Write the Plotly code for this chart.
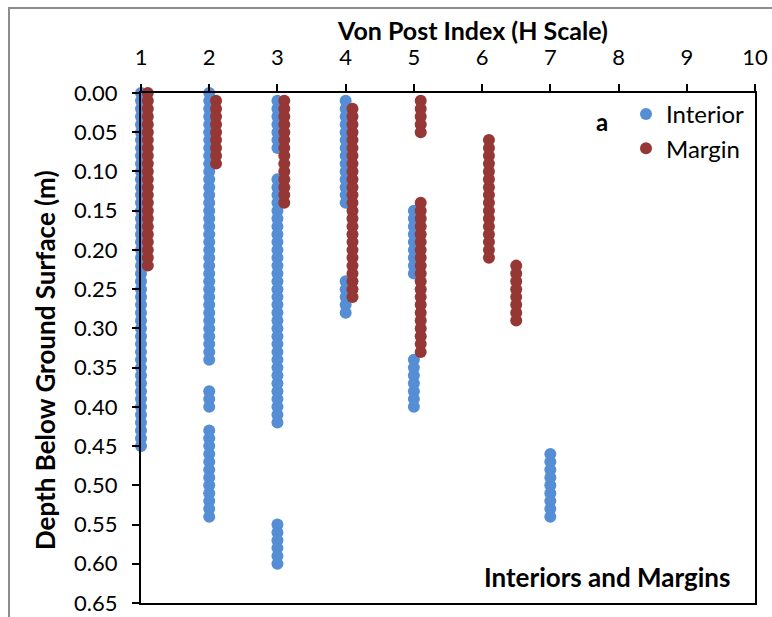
import plotly.graph_objects as go

# Von Post index (H scale) positions of each column of points
interior_x = [1, 2, 3, 4, 5, 7]
margin_x = [1.1, 2.1, 3.1, 4.1, 5.1, 6.1, 6.5]

# Depths below ground surface (m) read for each column (0.01 m sampling)
interior_depths = [
    [0.00, 0.01, 0.02, 0.03, 0.04, 0.05, 0.06, 0.07, 0.08, 0.09, 0.10, 0.11, 0.12, 0.13, 0.14, 0.15,
     0.16, 0.17, 0.18, 0.19, 0.20, 0.21, 0.22, 0.23, 0.24, 0.25, 0.26, 0.27, 0.28, 0.29, 0.30,
     0.31, 0.32, 0.33, 0.34, 0.35, 0.36, 0.37, 0.38, 0.39, 0.40, 0.41, 0.42, 0.43, 0.44, 0.45],
    [0.00, 0.01, 0.02, 0.03, 0.04, 0.05, 0.06, 0.07, 0.08, 0.09, 0.10, 0.11, 0.12, 0.13, 0.14, 0.15,
     0.16, 0.17, 0.18, 0.19, 0.20, 0.21, 0.22, 0.23, 0.24, 0.25, 0.26, 0.27, 0.28, 0.29, 0.30,
     0.31, 0.32, 0.33, 0.34, 0.38, 0.39, 0.40, 0.43, 0.44, 0.45, 0.46, 0.47, 0.48, 0.49, 0.50,
     0.51, 0.52, 0.53, 0.54],
    [0.01, 0.02, 0.03, 0.04, 0.05, 0.06, 0.07, 0.11, 0.12, 0.13, 0.14, 0.15, 0.16, 0.17, 0.18,
     0.19, 0.20, 0.21, 0.22, 0.23, 0.24, 0.25, 0.26, 0.27, 0.28, 0.29, 0.30, 0.31, 0.32, 0.33,
     0.34, 0.35, 0.36, 0.37, 0.38, 0.39, 0.40, 0.41, 0.42, 0.55, 0.56, 0.57, 0.58, 0.59, 0.60],
    [0.01, 0.02, 0.03, 0.04, 0.05, 0.06, 0.07, 0.08, 0.09, 0.10, 0.11, 0.12, 0.13, 0.14,
     0.24, 0.25, 0.26, 0.27, 0.28],
    [0.15, 0.16, 0.17, 0.18, 0.19, 0.20, 0.21, 0.22, 0.23,
     0.34, 0.35, 0.36, 0.37, 0.38, 0.39, 0.40],
    [0.46, 0.47, 0.48, 0.49, 0.50, 0.51, 0.52, 0.53, 0.54],
]

margin_depths = [
    [0.00, 0.01, 0.02, 0.03, 0.04, 0.05, 0.06, 0.07, 0.08, 0.09, 0.10, 0.11, 0.12, 0.13, 0.14, 0.15,
     0.16, 0.17, 0.18, 0.19, 0.20, 0.21, 0.22],
    [0.01, 0.02, 0.03, 0.04, 0.05, 0.06, 0.07, 0.08, 0.09],
    [0.01, 0.02, 0.03, 0.04, 0.05, 0.06, 0.07, 0.08, 0.09, 0.10, 0.11, 0.12, 0.13, 0.14],
    [0.02, 0.03, 0.04, 0.05, 0.06, 0.07, 0.08, 0.09, 0.10, 0.11, 0.12, 0.13, 0.14, 0.15, 0.16,
     0.17, 0.18, 0.19, 0.20, 0.21, 0.22, 0.23, 0.24, 0.25, 0.26],
    [0.01, 0.02, 0.03, 0.04, 0.05,
     0.14, 0.15, 0.16, 0.17, 0.18, 0.19, 0.20, 0.21, 0.22, 0.23, 0.24, 0.25, 0.26, 0.27, 0.28,
     0.29, 0.30, 0.31, 0.32, 0.33],
    [0.06, 0.07, 0.08, 0.09, 0.10, 0.11, 0.12, 0.13, 0.14, 0.15, 0.16, 0.17, 0.18, 0.19, 0.20, 0.21],
    [0.22, 0.23, 0.24, 0.25, 0.26, 0.27, 0.28, 0.29],
]

x_ticks = [1, 2, 3, 4, 5, 6, 7, 8, 9, 10]
y_ticks = [0.00, 0.05, 0.10, 0.15, 0.20, 0.25, 0.30, 0.35, 0.40, 0.45, 0.50, 0.55, 0.60, 0.65]

INTERIOR_COLOR = "#558ed5"
MARGIN_COLOR = "#953735"
FONT = "Lato, 'Open Sans', sans-serif"

# plot area in pixels
L, R, T, B = 141, 755, 93, 603
W, H = 772, 617

def px(xp):
    return (xp - L) / (R - L)

def py(yp):
    return (B - yp) / (B - T)

def flatten(xs, ds):
    ox, oy = [], []
    for xv, dl in zip(xs, ds):
        for d in dl:
            ox.append(xv)
            oy.append(d)
    return ox, oy

ix, iy = flatten(interior_x, interior_depths)
mx, my = flatten(margin_x, margin_depths)

fig = go.Figure()
fig.add_trace(go.Scatter(x=ix, y=iy, mode="markers", name="Interior",
                         marker=dict(color=INTERIOR_COLOR, size=12, line=dict(width=0)),
                         cliponaxis=False))
fig.add_trace(go.Scatter(x=mx, y=my, mode="markers", name="Margin",
                         marker=dict(color=MARGIN_COLOR, size=12, line=dict(width=0)),
                         cliponaxis=False))

fig.update_layout(
    width=W, height=H,
    margin=dict(l=L, r=W - R, t=T, b=H - B, autoexpand=False),
    paper_bgcolor="white", plot_bgcolor="white",
    font=dict(family=FONT, size=22, color="black"),
    showlegend=True,
    legend=dict(x=px(626), y=py(92), xanchor="left", yanchor="top",
                bgcolor="rgba(0,0,0,0)", font=dict(size=24, family=FONT),
                itemsizing="constant", tracegroupgap=0),
    xaxis=dict(
        side="top", range=[1, 10], tickvals=x_ticks, ticktext=[str(t) for t in x_ticks],
        showgrid=False, zeroline=False, showline=True, linecolor="black", linewidth=2,
        mirror=True, ticks="outside", ticklen=7, tickwidth=1.5, tickcolor="black",
        tickfont=dict(size=22, family=FONT), ticklabelstandoff=10, automargin=False,
    ),
    yaxis=dict(
        range=[0.65, 0], tickvals=y_ticks, ticktext=[f"{t:.2f}" for t in y_ticks],
        showgrid=False, zeroline=False, showline=True, linecolor="black", linewidth=2,
        mirror=True, ticks="outside", ticklen=7, tickwidth=1.5, tickcolor="black",
        tickfont=dict(size=22, family=FONT), ticklabelstandoff=10, automargin=False,
    ),
    annotations=[
        dict(text="<b>Von Post Index (H Scale)</b>", xref="paper", yref="paper",
             x=px(472), y=py(30), xanchor="center", yanchor="middle", showarrow=False,
             font=dict(size=25, family=FONT)),
        dict(text="<b>Depth Below Ground Surface (m)</b>", xref="paper", yref="paper",
             x=px(45), y=py(360), xanchor="center", yanchor="middle", showarrow=False,
             textangle=-90, font=dict(size=26, family=FONT)),
        dict(text="<b>a</b>", xref="paper", yref="paper", x=px(602), y=py(121),
             xanchor="center", yanchor="middle", showarrow=False, font=dict(size=24, family=FONT)),
        dict(text="<b>Interiors and Margins</b>", xref="paper", yref="paper", x=px(732), y=py(577),
             xanchor="right", yanchor="middle", showarrow=False, font=dict(size=26, family=FONT)),
    ],
    shapes=[
        dict(type="rect", xref="paper", yref="paper",
             x0=px(9), x1=px(800), y0=py(640), y1=py(8),
             line=dict(color="#8c8c8c", width=2), fillcolor="rgba(0,0,0,0)", layer="below"),
    ],
)

fig.write_html("out.html")
